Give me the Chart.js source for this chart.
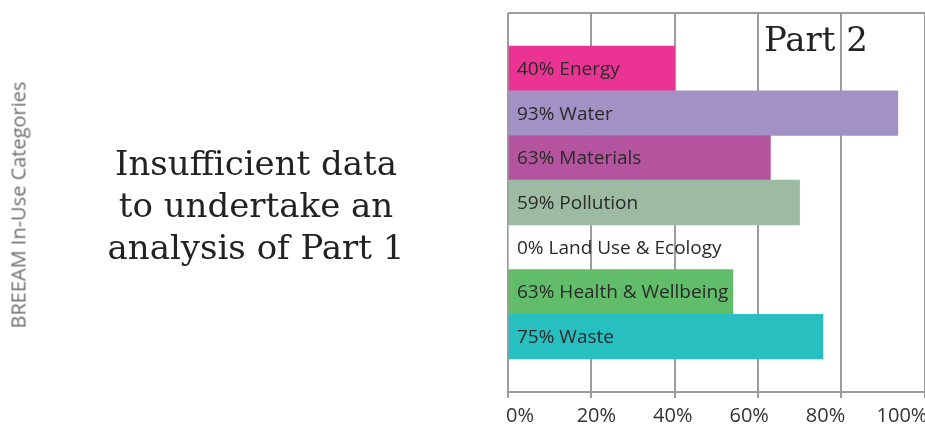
<!DOCTYPE html>
<html>
<head>
<meta charset="utf-8">
<script src="https://cdn.jsdelivr.net/npm/chart.js@4.4.1/dist/chart.umd.min.js"></script>
<style>
    html, body { margin: 0; padding: 0; background: #fff; }
    #wrap { position: relative; width: 925px; height: 428px; overflow: hidden; }
    #chart { position: absolute; left: 0; top: 0; }
    .side {
        position: absolute; left: 18px; top: 205px;
        transform: translate(-50%, -50%) rotate(-90deg);
        font: 20px "Open Sans", sans-serif; color: #6e6e6e; white-space: nowrap;
    }
    .note {
        position: absolute; left: 56px; top: 142px; width: 400px;
        text-align: center; font: 34px/42px "DejaVu Serif", serif; color: #222;
    }
    .part {
        position: absolute; left: 764px; top: 22px;
        font: 34px/34px "DejaVu Serif", serif; color: #222; white-space: pre;
    }
</style>
</head>
<body>
<div id="wrap">
    <canvas id="chart" width="925" height="428"></canvas>
    <div class="side">BREEAM In-Use Categories</div>
    <div class="note">Insufficient data<br>to undertake an<br>analysis of Part 1</div>
    <div class="part">Part 2</div>
</div>
<script>
// Categories and values (bar lengths, labels as printed)
const categories = ['Energy', 'Water', 'Materials', 'Pollution', 'Land Use & Ecology', 'Health & Wellbeing', 'Waste'];
const scoreLabels = ['40%', '93%', '63%', '59%', '0%', '63%', '75%'];
const barValues = [40, 93.6, 63, 70, 0, 54, 75.6];
const barColors = ['#ea3393', '#a291c5', '#b5549e', '#9dbaa2', '#ffffff', '#62bd6a', '#28bfc0'];
const tickLabels = ['0%', '20%', '40%', '60%', '80%', '100%'];

const gridColor = '#9c9c9c';

// text inside each bar
const barText = {
    id: 'barText',
    afterDatasetsDraw(chart) {
        const ctx = chart.ctx;
        const yScale = chart.scales.y;
        ctx.save();
        ctx.font = '19px "Open Sans", sans-serif';
        ctx.fillStyle = '#2a2a2a';
        ctx.textBaseline = 'middle';
        ctx.textAlign = 'left';
        categories.forEach((c, i) => {
            ctx.fillText(scoreLabels[i] + ' ' + c, chart.chartArea.left + 9, yScale.getPixelForValue(i) + 1);
        });
        ctx.restore();
    }
};

// top edge of the frame
const frameTop = {
    id: 'frameTop',
    beforeDatasetsDraw(chart) {
        const { ctx, chartArea } = chart;
        ctx.save();
        ctx.strokeStyle = gridColor;
        ctx.lineWidth = 2;
        ctx.beginPath();
        ctx.moveTo(chartArea.left, chartArea.top);
        ctx.lineTo(chartArea.right + 2, chartArea.top);
        ctx.stroke();
        ctx.restore();
    }
};

const ctx = document.getElementById('chart').getContext('2d');
const chart = new Chart(ctx, {
    type: 'bar',
    data: {
        datasets: [{
            data: categories.map((c, i) => ({ x: barValues[i], y: i })),
            backgroundColor: barColors,
            borderWidth: 0,
            barPercentage: 1,
            categoryPercentage: 1,
        }]
    },
    options: {
        indexAxis: 'y',
        responsive: false,
        animation: false,
        layout: { padding: { left: 508, top: 13, right: 0.5, bottom: 0 } },
        plugins: {
            legend: { display: false },
            tooltip: { enabled: false },
        },
        scales: {
            y: {
                type: 'linear',
                min: -1.24,
                max: 7.24,
                reverse: true,
                offset: false,
                display: false,
            },
            x: {
                type: 'linear',
                position: 'bottom',
                weight: 0,
                min: 0,
                max: 100,
                ticks: { stepSize: 20, display: false },
                grid: { color: gridColor, lineWidth: 2, drawTicks: true, tickLength: 6, tickColor: gridColor },
                border: { display: true, color: gridColor, width: 2 },
                afterFit: s => { s.height = 6; s.paddingLeft = 0; s.paddingRight = 0; },
            },
            xLab: {
                type: 'linear',
                position: 'bottom',
                weight: 1,
                min: -3.14,
                max: 105.9,
                grid: { display: false, drawTicks: false },
                border: { display: false },
                ticks: {
                    stepSize: 20,
                    includeBounds: false,
                    autoSkip: false,
                    maxRotation: 0,
                    padding: 6,
                    color: '#333',
                    font: { family: '"Open Sans", sans-serif', size: 20 },
                    callback: v => tickLabels[Math.round(v / 20)],
                },
                afterFit: s => { s.height = 30; s.paddingLeft = 0; s.paddingRight = 0; },
            },
        },
    },
    plugins: [frameTop, barText],
});
</script>
</body>
</html>
